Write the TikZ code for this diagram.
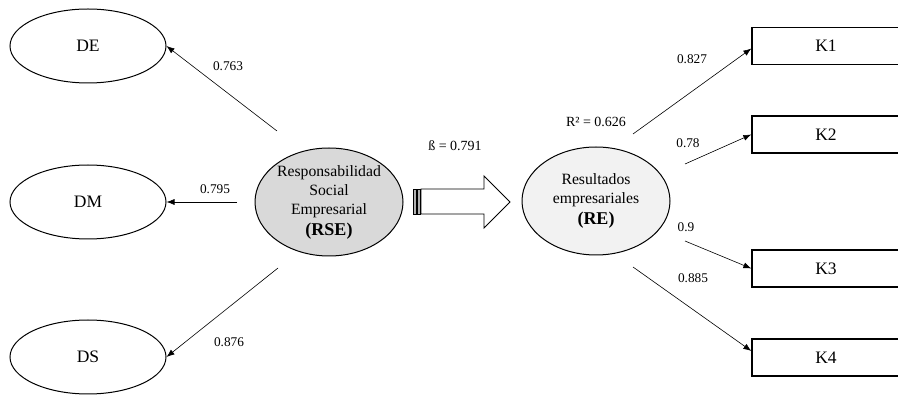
\documentclass[tikz,border=0pt]{standalone}
\usepackage{fontspec}
\setmainfont{Liberation Serif}
\usetikzlibrary{arrows.meta,shapes.geometric}

\tikzset{
  construct/.style={ellipse, draw, line width=1pt, inner sep=0pt,
    minimum width=156pt, minimum height=74pt,
    font=\fontsize{17.5}{21}\selectfont},
  latent/.style={ellipse, draw, line width=1pt, inner sep=0pt,
    minimum width=148pt, minimum height=108pt, align=center,
    font=\fontsize{15.7}{19}\selectfont},
  indicator/.style={rectangle, draw, line width=1.3pt, inner sep=0pt,
    minimum width=148pt, minimum height=37pt,
    font=\fontsize{17.5}{21}\selectfont},
  loading/.style={draw, line width=0.6pt, -{Latex[length=8pt,width=6pt]}},
  coef/.style={inner sep=0pt, font=\fontsize{13.3}{16}\selectfont},
}

\begin{document}
\begin{tikzpicture}[x=1pt,y=-1pt]
\useasboundingbox (0,0) rectangle (898,395);

% dimensions of RSE
\node[construct] (DE) at (88,46)  {DE};
\node[construct] (DM) at (88,202) {DM};
\node[construct] (DS) at (88,357) {DS};

% latent constructs
\node[latent, fill={rgb,255:red,217;green,217;blue,217}] (RSE) at (329,202)
  {Responsabilidad\\Social\\Empresarial\\[2pt]{\fontsize{18}{21}\selectfont\bfseries (RSE)}};
\node[latent, fill={rgb,255:red,242;green,242;blue,242}] (RE) at (596,201)
  {Resultados\\empresariales\\[2pt]{\fontsize{18}{21}\selectfont\bfseries (RE)}};

% indicators of RE
\node[indicator] (K1) at (826,46)    {K1};
\node[indicator] (K2) at (826,134.5) {K2};
\node[indicator] (K3) at (826,268.5) {K3};
\node[indicator] (K4) at (826,357.5) {K4};

% loose ends of the loading lines
\coordinate (sDE) at (277,131);
\coordinate (sDM) at (237,202);
\coordinate (sDS) at (278,268);
\coordinate (sK1) at (633,134);
\coordinate (sK2) at (685,164);
\coordinate (sK3) at (685,241);
\coordinate (sK4) at (633,267);

\draw[loading] (sDE) -- (DE.east);
\draw[loading] (sDM) -- (DM.east);
\draw[loading] (sDS) -- (DS.east);
\draw[loading] (sK1) -- ([yshift=-2.5pt]K1.west);
\draw[loading] (sK2) -- (K2.west);
\draw[loading] (sK3) -- (K3.west);
\draw[loading] (sK4) -- ([yshift=6.5pt]K4.west);

% loadings
\node[coef] (lDE) at (228,66)  {0.763};
\node[coef] (lDM) at (215,189) {0.795};
\node[coef] (lDS) at (229,342) {0.876};
\node[coef] (lK1) at (692,59)  {0.827};
\node[coef] (lK2) at (688,143) {0.78};
\node[coef] (lK3) at (686,227) {0.9};
\node[coef] (lK4) at (693,278) {0.885};

% structural path: striped block arrow
\draw[line width=0.8pt, fill=gray!60] (413.3,189) rectangle (416,214);
\draw[line width=0.8pt, fill=gray!60] (417.7,189) rectangle (420,214);
\draw[line width=0.9pt, fill=white]
  (421,189) -- (484,189) -- (484,176) -- (510,202) -- (484,228)
  -- (484,214) -- (421,214) -- cycle;

\node[coef, font=\fontsize{14}{16}\selectfont] (beta) at (455,146) {ß = 0.791};
\node[coef, font=\fontsize{14}{16}\selectfont] (r2) at (596,122) {R² = 0.626};
\end{tikzpicture}
\end{document}
